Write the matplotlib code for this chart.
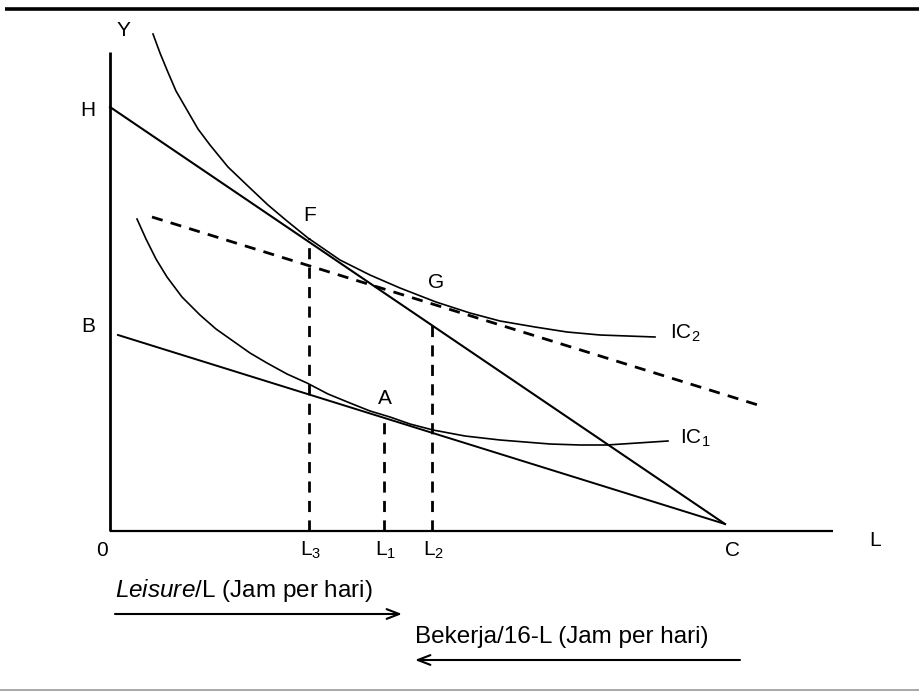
import numpy as np
from matplotlib import pyplot as plt

plt.rcParams['font.family'] = ['Liberation Sans', 'DejaVu Sans']
plt.rcParams['mathtext.fontset'] = 'custom'
plt.rcParams['mathtext.rm'] = 'Liberation Sans'
plt.rcParams['mathtext.it'] = 'Liberation Sans:italic'
plt.rcParams['mathtext.default'] = 'regular'

# diagram units: x = leisure (0 at origin), y = income (0 at origin)
axis_top = 479
axis_right = 723

# budget lines (start, end)
budget_H_x = [0, 615]
budget_H_y = [424, 7]
budget_B_x = [8, 615]
budget_B_y = [196, 7]
budget_dash_x = [42, 648]
budget_dash_y = [314, 126]

# indifference curves
ic2_x = [43, 50, 57, 66, 77, 88, 100, 118, 140, 158, 177, 198, 230, 260, 290, 326, 360, 390, 425, 457, 490, 545]
ic2_y = [497, 478, 461, 440, 421, 402, 386, 364, 343, 326, 310, 293, 271, 256, 243, 229, 218, 210, 204, 199, 196, 194]
ic1_x = [27, 36, 46, 57, 72, 90, 106, 123, 140, 157, 177, 197, 218, 240, 260, 280, 300, 323, 355, 390, 440, 470, 497, 558]
ic1_y = [312, 292, 272, 254, 234, 216, 202, 190, 178, 168, 157, 148, 137, 128, 120, 114, 107, 101, 95, 91, 87, 86, 86, 90]

# dashed drops to the L axis
drop_x = [199, 274, 322]
drop_top = [293, 109, 206]
drop_labels = ['L$_3$', 'L$_1$', 'L$_2$']


def main():
    fig = plt.figure(figsize=(9.2, 6.91), dpi=100)
    ax = fig.add_axes([0, 0, 1, 1])
    ax.set_xlim(-110, 810)
    ax.set_ylim(-160, 531)
    ax.axis('off')

    # frame bars of the scan
    ax.plot([-105, 810], [522, 522], color='black', lw=2.6, solid_capstyle='butt')
    ax.plot([-110, 810], [-158.5, -158.5], color='#9a9a9a', lw=1.2)

    # axes
    ax.plot([0, 0], [0, axis_top], color='black', lw=2.0, solid_capstyle='butt')
    ax.plot([0, axis_right], [0, 0], color='black', lw=1.6, solid_capstyle='butt')

    # budget lines
    ax.plot(budget_H_x, budget_H_y, color='black', lw=1.5)
    ax.plot(budget_B_x, budget_B_y, color='black', lw=1.4)
    ax.plot(budget_dash_x, budget_dash_y, color='black', lw=2.0,
            linestyle=(0, (4, 3)))

    # indifference curves
    ax.plot(ic2_x, ic2_y, color='black', lw=1.2)
    ax.plot(ic1_x, ic1_y, color='black', lw=1.2)

    fs = 15
    for x, top, lab in zip(drop_x, drop_top, drop_labels):
        ax.plot([x, x], [0, top], color='black', lw=2.0, linestyle=(0, (4, 3)))
        ax.text(x + 2, -19, lab, fontsize=fs, ha='center', va='center')

    ax.text(13, 501, 'Y', fontsize=fs, ha='center', va='center')
    ax.text(-22, 421, 'H', fontsize=fs, ha='center', va='center')
    ax.text(-22, 204, 'B', fontsize=fs, ha='center', va='center')
    ax.text(-8, -19, '0', fontsize=fs, ha='center', va='center')
    ax.text(623, -19, 'C', fontsize=fs, ha='center', va='center')
    ax.text(765, -9, 'L', fontsize=fs, ha='center', va='center')
    ax.text(200, 316, 'F', fontsize=fs, ha='center', va='center')
    ax.text(326, 248, 'G', fontsize=fs, ha='center', va='center')
    ax.text(275, 133, 'A', fontsize=fs, ha='center', va='center')
    ax.text(560, 198, 'IC$_2$', fontsize=fs, ha='left', va='center')
    ax.text(570, 93, 'IC$_1$', fontsize=fs, ha='left', va='center')

    # bottom captions with arrows
    cap = 17.5
    ax.text(5, -59, r'$\mathit{Leisure}$/L (Jam per hari)', fontsize=cap,
            ha='left', va='center')
    ax.annotate('', xy=(292, -83), xytext=(5, -83),
                arrowprops=dict(arrowstyle='->,head_length=0.9,head_width=0.35',
                                color='black', lw=1.5, shrinkA=0, shrinkB=0))
    ax.text(305, -106, 'Bekerja/16-L (Jam per hari)', fontsize=cap,
            ha='left', va='center')
    ax.annotate('', xy=(305, -129), xytext=(630, -129),
                arrowprops=dict(arrowstyle='->,head_length=0.9,head_width=0.35',
                                color='black', lw=1.5, shrinkA=0, shrinkB=0))

    fig.savefig('out.png', dpi=100)


main()
